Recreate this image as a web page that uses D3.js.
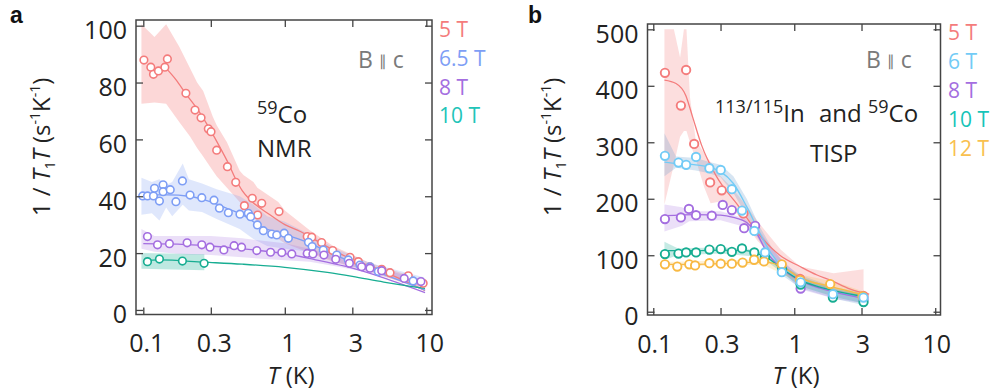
<!DOCTYPE html>
<html>
<head>
<meta charset="utf-8">
<script src="https://cdn.jsdelivr.net/npm/d3@7"></script>
<style>
  body { margin: 0; background: #fff; }
  svg text { font-family: "Open Sans", "Noto Sans", sans-serif; }
</style>
</head>
<body>
<div id="chart"></div>
<script>
// ---------- panel a : 59Co NMR ----------
var aTicksX = [0.1, 0.3, 1, 3, 10];
var aTicksY = [0, 20, 40, 60, 80, 100];
var aFields = ["5 T", "6.5 T", "8 T", "10 T"];

// measured points [T (K), 1/T1T]
var a5pts = [[0.101,87.9],[0.113,85.4],[0.118,82.9],[0.128,84.1],[0.142,85.4],[0.148,88.3],[0.200,76.2],[0.232,70.3],[0.256,67.6],[0.288,63.7],[0.301,62.7],[0.330,56.2],[0.393,50.4],[0.450,44.9],[0.518,36.7],[0.589,39.3],[0.643,33.4],[0.687,37.5],[0.910,34.6],[1.44,25.8],[1.55,25.6],[1.82,23.7],[2.18,20.9],[2.89,18.5],[3.31,17.0],[4.0,15.2],[4.84,14.3],[5.54,13.1],[7.46,12.0],[9.5,9.4]];
var a65pts = [[0.099,40.1],[0.107,40.1],[0.118,40.1],[0.120,42.8],[0.130,38.3],[0.138,44.0],[0.138,41.6],[0.155,42.3],[0.170,38.1],[0.189,45.4],[0.214,40.4],[0.259,39.5],[0.316,38.6],[0.345,35.8],[0.399,34.2],[0.482,33.7],[0.552,34.0],[0.574,32.8],[0.640,29.9],[0.705,27.9],[0.808,26.7],[0.877,26.4],[0.99,27.0],[1.06,25.2],[1.47,23.8],[1.56,22.3],[1.87,21.1],[2.33,19.3],[2.81,17.6],[3.40,15.8],[4.0,15.2],[4.58,13.5],[8.07,10.2]];
var a8pts = [[0.107,25.8],[0.126,22.9],[0.153,23.3],[0.204,23.6],[0.259,22.9],[0.296,22.1],[0.371,21.1],[0.438,22.6],[0.495,22.1],[0.634,20.9],[0.793,20.3],[0.952,20.2],[1.12,19.7],[1.44,19.9],[1.58,19.7],[1.89,19.3],[2.29,17.8],[2.86,16.4],[3.49,15.2],[4.0,14.7],[4.84,13.8],[6.98,11.1],[9.16,10.0]];
var a10pts = [[0.107,17.0],[0.130,17.9],[0.189,17.2],[0.269,16.4]];

// fit curves [T, value]
var a5fit = [[0.142,85.5],[0.17,81],[0.2,76],[0.25,69.5],[0.3,63],[0.35,57],[0.4,51.5],[0.45,46],[0.5,42],[0.57,38.7],[0.79,33.4],[1.0,30],[1.3,27.5],[1.8,23.5],[2.7,18.8],[4.7,14.1],[9.8,6.8]];
var a65fit = [[0.1,40.5],[0.15,40.5],[0.21,40],[0.3,38],[0.4,35.5],[0.5,33.5],[0.7,29],[1.0,26.5],[1.5,23.5],[2,20.5],[3,16.8],[5,12.5],[9.8,7]];
var a8fit = [[0.1,23.3],[0.2,23],[0.3,22.5],[0.5,21.5],[1.0,19.8],[1.6,17.8],[2.7,15.3],[3.0,14.7],[5,11.3],[9.8,6.1]];
var a10fit = [[0.1,17.3],[0.13,17.6],[0.27,16.8],[0.5,16.1],[1.0,15],[2,13.2],[3,11.8],[5,9.8],[9.8,7.6]];

// error bands [T, low, high]
var a5band = [[0.097,72.5,100.5],[0.12,73,96],[0.145,72.5,100.5],[0.18,66,92.5],[0.214,61,85],[0.24,57,80],[0.265,54,77],[0.31,49,68],[0.33,47,65],[0.39,43,59],[0.48,38,49],[0.51,37,47.5],[0.6,33,45],[0.64,31,43],[0.9,25,38],[1.0,23.5,35],[1.5,20,28],[2.2,17,22.5],[4,13.5,16.5],[9.6,7,10.5]];
var a65band = [[0.097,33.5,46.5],[0.115,34,45],[0.13,31.5,46],[0.145,36,44],[0.16,33,45],[0.19,37,51.5],[0.21,35,46],[0.26,34.5,44.5],[0.33,32,42.5],[0.48,28.5,40],[0.6,25,37],[0.75,22.5,33],[1.0,21.5,31],[1.5,20.5,26.5],[2.3,17,21.5],[4,13.5,16.5],[9.6,8,11.5]];
var a8band = [[0.097,21.5,28.5],[0.12,20.5,26],[0.2,19.5,26],[0.3,19.3,26],[0.5,18.5,25.2],[1.0,17.5,23.5],[1.5,17,21.5],[2.5,15,18.5],[4,13,15.5],[9.6,8,10.5]];
var a10band = [[0.097,14.5,20],[0.27,14,19.6]];

// ---------- panel b : 113/115In and 59Co TISP ----------
var bTicksX = [0.1, 0.3, 1, 3, 10];
var bTicksY = [0, 100, 200, 300, 400, 500];
var bFields = ["5 T", "6 T", "8 T", "10 T", "12 T"];

var b5pts = [[0.121,423],[0.157,365],[0.171,428],[0.195,297],[0.253,229],[0.306,215],[0.436,174],[1.1,58],[3.1,28]];
var b6pts = [[0.121,276],[0.151,264],[0.171,260],[0.201,274],[0.250,254],[0.301,251],[0.361,217],[0.426,179],[0.521,143],[0.621,105],[0.816,70],[1.11,52],[1.88,31],[3.1,25]];
var b8pts = [[0.121,164],[0.157,167],[0.179,182],[0.201,171],[0.260,170],[0.311,189],[0.361,180],[0.441,148],[0.528,152],[0.82,74],[1.11,41],[1.88,28],[3.1,22]];
var b10pts = [[0.121,102],[0.151,103],[0.171,105],[0.201,105],[0.250,110],[0.301,111],[0.361,106],[0.426,112],[0.521,105],[0.621,97],[0.82,75],[1.11,48],[1.88,25],[3.1,17]];
var b12pts = [[0.121,84],[0.148,80],[0.180,84],[0.198,82],[0.250,86],[0.301,85],[0.361,85],[0.430,87],[0.519,92],[0.610,89],[0.816,84],[1.10,56],[1.80,49],[3.05,27]];

var b5fit = [[0.12,410],[0.145,404],[0.17,383],[0.19,345],[0.22,295],[0.28,240],[0.4,188],[0.57,135],[0.79,100],[1.1,80],[1.45,65],[1.8,56],[2.5,40],[3.4,31]];
var b6fit = [[0.12,265],[0.15,262],[0.2,260],[0.25,256],[0.3,248],[0.37,227],[0.46,186],[0.57,139],[0.7,100],[0.85,75],[1.1,57],[1.5,44],[2,35],[3.1,26]];
var b8fit = [[0.12,170],[0.2,172],[0.3,171],[0.37,167],[0.46,158],[0.54,139],[0.64,105],[0.8,78],[1.1,55],[1.5,42],[2,34],[3.1,24]];
var b10fit = [[0.12,108],[0.2,108],[0.3,109],[0.45,108],[0.55,103],[0.65,95],[0.8,78],[1.1,56],[1.5,44],[2,36],[3.1,27]];
var b12fit = [[0.12,84],[0.2,84],[0.3,85],[0.45,87],[0.6,88],[0.7,86],[0.82,80],[1.1,60],[1.8,45],[3.1,30]];

var b5band = [[0.12,190,500],[0.14,260,500],[0.155,310,450],[0.165,320,500],[0.172,320,500],[0.182,300,380],[0.2,270,305],[0.23,220,280],[0.255,192,265],[0.3,195,240],[0.36,185,220],[0.45,155,190],[0.55,125,160],[0.8,85,110],[1.1,55,80],[1.9,35,68],[3.1,22,75]];
var b6band = [[0.12,240,316],[0.145,255,275],[0.2,250,272],[0.25,245,265],[0.3,238,260],[0.37,210,240],[0.46,170,200],[0.57,125,150],[0.7,88,112],[0.85,62,85],[1.1,42,65],[2,22,42],[3.1,12,35]];
var b8band = [[0.12,142,190],[0.16,152,185],[0.18,160,178],[0.3,162,178],[0.45,150,165],[0.55,130,148],[0.7,90,110],[1.1,40,60],[2,22,38],[3.1,15,30]];
var b10band = [[0.12,92,124],[0.15,100,112],[0.3,103,114],[0.5,98,110],[0.65,88,100],[1.1,45,62],[2,25,40],[3.1,15,32]];
var b12band = [[0.12,80,88],[0.6,83,93],[1.1,52,66],[2,38,52],[3.1,22,36]];

var RED = "#f47c7c", BLUE = "#7e9ef5", PURPLE = "#a46ee0", TEAL = "#17ad92",
    SKY = "#72cbf6", ORANGE = "#f8b943", INK = "#222";

var svg = d3.select("#chart").append("svg")
  .attr("width", 992)
  .attr("height", 392);

function drawPanel(cfg) {
  var x = d3.scaleLog().domain(cfg.xDomain).range([cfg.left, cfg.right]);
  var y = d3.scaleLinear().domain(cfg.yDomain).range([cfg.bottom, cfg.top]);

  svg.append("clipPath").attr("id", "clip-" + cfg.name)
    .append("rect")
    .attr("x", cfg.left).attr("y", cfg.top)
    .attr("width", cfg.right - cfg.left).attr("height", cfg.bottom - cfg.top);

  var plot = svg.append("g").attr("clip-path", "url(#clip-" + cfg.name + ")");

  var area = d3.area()
    .x(function(d) { return x(d[0]); })
    .y0(function(d) { return y(d[1]); })
    .y1(function(d) { return y(d[2]); });
  var line = d3.line()
    .x(function(d) { return x(d[0]); })
    .y(function(d) { return y(d[1]); })
    .curve(d3.curveMonotoneX);

  cfg.series.forEach(function(s) {
    plot.append("path").datum(s.band)
      .attr("d", area)
      .attr("fill", s.bandColor || s.color)
      .attr("fill-opacity", s.bandOpacity);
  });
  cfg.series.forEach(function(s) {
    plot.append("path").datum(s.fit)
      .attr("d", line)
      .attr("fill", "none")
      .attr("stroke", s.color)
      .attr("stroke-width", 1.3);
  });
  cfg.pointOrder.forEach(function(i) {
    var s = cfg.series[i];
    plot.append("g").selectAll("circle")
      .data(s.pts)
      .enter().append("circle")
      .attr("cx", function(d) { return x(d[0]); })
      .attr("cy", function(d) { return y(d[1]); })
      .attr("r", cfg.r)
      .attr("fill", "#fff")
      .attr("stroke", s.color)
      .attr("stroke-width", cfg.sw);
  });

  // axes, ticks pointing inward on all four sides
  var fmt = function(d) { return String(d); };
  var axes = [
    svg.append("g").attr("transform", "translate(0," + cfg.bottom + ")")
      .call(d3.axisBottom(x).tickValues(cfg.ticksX).tickFormat(fmt).tickSize(-7).tickPadding(20)),
    svg.append("g").attr("transform", "translate(0," + cfg.top + ")")
      .call(d3.axisTop(x).tickValues(cfg.ticksX).tickFormat("").tickSize(-7)),
    svg.append("g").attr("transform", "translate(" + cfg.left + ",0)")
      .call(d3.axisLeft(y).tickValues(cfg.ticksY).tickFormat(fmt).tickSize(-7).tickPadding(9)),
    svg.append("g").attr("transform", "translate(" + cfg.right + ",0)")
      .call(d3.axisRight(y).tickValues(cfg.ticksY).tickFormat("").tickSize(-7))
  ];
  axes.forEach(function(a) {
    a.select(".domain").remove();
    a.selectAll(".tick line").attr("stroke", "#444").attr("stroke-width", 1.3);
    a.selectAll(".tick text").attr("font-size", 25).attr("fill", INK)
      .style("font-family", "'Open Sans', sans-serif");
  });
  axes[0].selectAll(".tick text").attr("dx", cfg.xLabelDx);
  axes[2].selectAll(".tick text").attr("dy", "0.52em");

  svg.append("rect")
    .attr("x", cfg.left).attr("y", cfg.top)
    .attr("width", cfg.right - cfg.left).attr("height", cfg.bottom - cfg.top)
    .attr("fill", "none").attr("stroke", "#444").attr("stroke-width", 1.5);

  // axis titles
  var yl = svg.append("text")
    .attr("transform", "translate(" + cfg.yLabelX + ",147) rotate(-90)")
    .attr("text-anchor", "middle")
    .attr("font-size", 24)
    .attr("fill", INK);
  yl.append("tspan").text("1 / ");
  yl.append("tspan").attr("font-style", "italic").text("T");
  yl.append("tspan").attr("font-size", 14).attr("dy", 5).text("1");
  yl.append("tspan").attr("font-style", "italic").attr("dy", -5).text("T");
  yl.append("tspan").text(" (s");
  yl.append("tspan").attr("font-size", 14).attr("dy", -10).text("-1");
  yl.append("tspan").attr("dy", 10).text("K");
  yl.append("tspan").attr("font-size", 14).attr("dy", -10).text("-1");
  yl.append("tspan").attr("dy", 10).text(")");

  var xl = svg.append("text")
    .attr("x", cfg.xLabelX).attr("y", 384)
    .attr("text-anchor", "middle")
    .attr("font-size", 24)
    .attr("fill", INK);
  xl.append("tspan").attr("font-style", "italic").text("T");
  xl.append("tspan").text(" (K)");

  // panel letter
  svg.append("text")
    .attr("x", cfg.letterX).attr("y", 23)
    .attr("font-size", 23).attr("font-weight", "bold")
    .style("font-family", "'Liberation Sans', Arial, sans-serif")
    .attr("fill", "#111")
    .text(cfg.name);

  // field legend
  svg.append("g").selectAll("text")
    .data(cfg.series)
    .enter().append("text")
    .attr("x", cfg.legendX)
    .attr("y", function(d, i) { return cfg.legendY + i * 28.9; })
    .attr("font-size", 21)
    .attr("fill", function(d) { return d.legendColor || d.color; })
    .text(function(d) { return d.label; });

  // B || c
  var bc = svg.append("text")
    .attr("x", cfg.bcX).attr("y", 68)
    .attr("font-size", 23)
    .attr("fill", "#7a7a7a");
  bc.append("tspan").text("B ");
  bc.append("tspan").attr("font-size", 15).attr("dy", -2).text("\u2225");
  bc.append("tspan").attr("dy", 2).text(" c");

  return { x: x, y: y };
}

drawPanel({
  name: "a",
  left: 136, right: 432, top: 20, bottom: 314.5,
  xDomain: [0.0888, 10.97], yDomain: [-1.6, 102],
  ticksX: aTicksX, ticksY: aTicksY,
  r: 3.8, sw: 1.6, xLabelDx: 3,
  yLabelX: 50, xLabelX: 291, letterX: 10,
  legendX: 439, legendY: 36.7, bcX: 358,
  pointOrder: [0, 1, 2, 3],
  series: [
    { label: aFields[0], color: RED, pts: a5pts, fit: a5fit, band: a5band, bandOpacity: 0.3 },
    { label: aFields[1], color: BLUE, pts: a65pts, fit: a65fit, band: a65band, bandOpacity: 0.25 },
    { label: aFields[2], color: PURPLE, pts: a8pts, fit: a8fit, band: a8band, bandOpacity: 0.22 },
    { label: aFields[3], color: TEAL, legendColor: "#21c4b8", pts: a10pts, fit: a10fit, band: a10band, bandOpacity: 0.28 }
  ]
});

drawPanel({
  name: "b",
  left: 647.5, right: 940.5, top: 24, bottom: 315,
  xDomain: [0.091, 10.9], yDomain: [-5.8, 509.4],
  ticksX: bTicksX, ticksY: bTicksY,
  r: 4.2, sw: 1.9, xLabelDx: 1,
  yLabelX: 561, xLabelX: 796, letterX: 528,
  legendX: 948, legendY: 40, bcX: 866,
  pointOrder: [0, 2, 3, 4, 1],
  series: [
    { label: bFields[0], color: RED, pts: b5pts, fit: b5fit, band: b5band, bandOpacity: 0.25 },
    { label: bFields[1], color: SKY, bandColor: "#6fa3cf", pts: b6pts, fit: b6fit, band: b6band, bandOpacity: 0.28 },
    { label: bFields[2], color: PURPLE, pts: b8pts, fit: b8fit, band: b8band, bandOpacity: 0.22 },
    { label: bFields[3], color: TEAL, legendColor: "#16c4b8", pts: b10pts, fit: b10fit, band: b10band, bandOpacity: 0.25 },
    { label: bFields[4], color: ORANGE, legendColor: "#f9c04e", pts: b12pts, fit: b12fit, band: b12band, bandOpacity: 0.22 }
  ]
});

// nucleus / technique annotations
var a1 = svg.append("text").attr("x", 257).attr("y", 123).attr("font-size", 24).attr("fill", INK);
a1.append("tspan").attr("font-size", 18).attr("dy", -9).text("59");
a1.append("tspan").attr("dy", 9).text("Co");
svg.append("text").attr("x", 257).attr("y", 157).attr("font-size", 24).attr("fill", INK).text("NMR");

var b1 = svg.append("text").attr("x", 715).attr("y", 122).attr("font-size", 24).attr("fill", INK);
b1.append("tspan").attr("font-size", 18).attr("dy", -9).text("113/115");
b1.append("tspan").attr("dy", 9).text("In");
b1.append("tspan").attr("dx", 8).text(" and ");
b1.append("tspan").attr("font-size", 18).attr("dy", -9).text("59");
b1.append("tspan").attr("dy", 9).text("Co");
svg.append("text").attr("x", 810).attr("y", 162).attr("font-size", 24).attr("fill", INK).text("TISP");
</script>
</body>
</html>
